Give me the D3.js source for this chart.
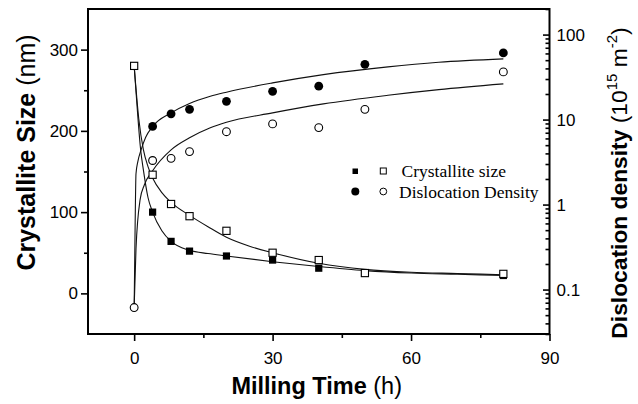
<!DOCTYPE html>
<html><head><meta charset="utf-8">
<script src="https://cdn.jsdelivr.net/npm/d3@7"></script>
<style>body{margin:0;background:#fff} svg{display:block}</style>
</head><body>
<svg id="c" width="638" height="404"></svg>
<script>
// ---- data ----
const timeOpenSize = [0, 4, 8, 12, 20, 30, 40, 50, 80];
const sizeOpen = [280, 146, 110, 95, 77, 50, 41, 25, 24];
const timeFilledSize = [0, 4, 8, 12, 20, 30, 40, 50, 80];
const sizeFilled = [280, 100, 64, 52, 46, 41, 31, 25, 22];
const timeOpenDens = [0, 4, 8, 12, 20, 30, 40, 50, 80];
const densOpen = [0.0614, 3.3, 3.5, 4.2, 7.2, 8.9, 8.05, 13.2, 36.4];
const timeFilledDens = [4, 8, 12, 20, 30, 40, 50, 80];
const densFilled = [8.3, 11.7, 13.2, 16.4, 21.5, 24.7, 44.7, 60.8];

// fitted curves
const fitSizeOpenT = [0, 1, 2, 3, 4, 6, 8, 12, 16, 20, 25, 30, 40, 50, 60, 70, 80];
const fitSizeOpen = [280, 215, 177, 156, 142, 124, 112, 96, 82, 69, 58, 50, 37, 29.5, 26, 24.5, 23];
const fitSizeFilledT = [0, 0.7, 1.4, 2, 3, 4, 6, 8, 12, 16, 20, 30, 40, 50, 60, 70, 80];
const fitSizeFilled = [280, 225, 177, 152, 118, 100, 77, 64, 53, 49, 46, 39, 33, 28, 25, 23.5, 22];
const fitDensFilledT = [0, 0.2, 0.4, 0.8, 1.5, 2.5, 4, 8, 12, 16.5, 20, 30, 41, 55, 66, 80];
const fitDensFilled = [0.0614, 0.5, 2.3, 3.2, 4.4, 6.2, 8.3, 12, 15.5, 18.8, 21, 27, 33.8, 41.7, 47.2, 51.8];
const fitDensOpenT = [0, 0.4, 1.3, 2.2, 4, 8, 12, 16.5, 20, 30, 41, 55, 66, 80];
const fitDensOpen = [0.0614, 0.3, 1.15, 1.7, 2.5, 4.4, 6.1, 8, 9.3, 12, 15.3, 19.3, 22.5, 26.3];

const xTicks = [0, 30, 60, 90];
const xMinor = [15, 45, 75];
const yLTicks = [0, 100, 200, 300];
const yLMinor = [50, 150, 250];
const yRTicks = [0.1, 1, 10, 100];
const legendLabels = ["Crystallite size", "Dislocation Density"];

// ---- layout ----
const L = 88, R = 549.5, T = 9, B = 334;
const svg = d3.select("#c");
const x = d3.scaleLinear([-10, 90], [L, R]);
const yL = d3.scaleLinear([-50, 350], [B, T]);
const yR = d3.scaleLog([0.03, 200], [B, T]);

const sans = "'Liberation Sans', Arial, sans-serif";
const serif = "'Liberation Serif', 'Times New Roman', serif";

function styleAxis(g) {
  g.select(".domain").remove();
  g.selectAll("line").attr("stroke", "#000").attr("stroke-width", 1.6);
  g.selectAll("text").attr("font-family", sans).attr("font-size", 17).attr("fill", "#000");
}

// bottom axis
svg.append("g").attr("transform", `translate(0,${B})`)
  .call(d3.axisBottom(x).tickValues(xTicks).tickSizeInner(7).tickSizeOuter(0).tickPadding(11).tickFormat(d3.format("d")))
  .call(styleAxis);
svg.append("g").attr("transform", `translate(0,${B})`)
  .call(d3.axisBottom(x).tickValues(xMinor).tickSizeInner(4).tickSizeOuter(0).tickFormat(""))
  .call(styleAxis);
// left axis
svg.append("g").attr("transform", `translate(${L},0)`)
  .call(d3.axisLeft(yL).tickValues(yLTicks).tickSizeInner(7).tickSizeOuter(0).tickPadding(3).tickFormat(d3.format("d")))
  .call(styleAxis);
svg.append("g").attr("transform", `translate(${L},0)`)
  .call(d3.axisLeft(yL).tickValues(yLMinor).tickSizeInner(4).tickSizeOuter(0).tickFormat(""))
  .call(styleAxis);
// right axis (log), ticks inward
const rMinor = [];
[0.01, 0.1, 1, 10, 100].forEach(dec => { for (let k = 2; k <= 9; k++) { const v = dec * k; if (v >= 0.03 && v <= 200) rMinor.push(v); } });
svg.append("g").attr("transform", `translate(${R},0)`)
  .call(d3.axisRight(yR).tickValues(rMinor).tickSizeInner(-4).tickSizeOuter(0).tickFormat(""))
  .call(styleAxis);
svg.append("g").attr("transform", `translate(${R},0)`)
  .call(d3.axisRight(yR).tickValues(yRTicks).tickSizeInner(-6.5).tickSizeOuter(0).tickPadding(7).tickFormat(d => String(d)))
  .call(styleAxis);

// frame
svg.append("rect").attr("x", L).attr("y", T).attr("width", R - L).attr("height", B - T)
  .attr("fill", "none").attr("stroke", "#000").attr("stroke-width", 2);

// fit curves
const lineL = d3.line().x(d => x(d[0])).y(d => yL(d[1])).curve(d3.curveMonotoneX);
const lineR = d3.line().x(d => x(d[0])).y(d => yR(d[1])).curve(d3.curveMonotoneX);
const zip = (a, b) => a.map((v, i) => [v, b[i]]);
const curves = svg.append("g").attr("fill", "none").attr("stroke", "#111").attr("stroke-width", 1.1);
curves.append("path").attr("d", lineL(zip(fitSizeOpenT, fitSizeOpen)));
curves.append("path").attr("d", lineL(zip(fitSizeFilledT, fitSizeFilled)));
curves.append("path").attr("d", lineR(zip(fitDensFilledT, fitDensFilled)));
curves.append("path").attr("d", lineR(zip(fitDensOpenT, fitDensOpen)));

// markers
const sq = 7.2;
svg.append("g").selectAll("rect").data(zip(timeFilledSize, sizeFilled)).join("rect")
  .attr("x", d => x(d[0]) - sq / 2).attr("y", d => yL(d[1]) - sq / 2)
  .attr("width", sq).attr("height", sq).attr("fill", "#000");
svg.append("g").selectAll("circle").data(zip(timeFilledDens, densFilled)).join("circle")
  .attr("cx", d => x(d[0])).attr("cy", d => yR(d[1])).attr("r", 4.4).attr("fill", "#000");
svg.append("g").selectAll("rect").data(zip(timeOpenSize, sizeOpen)).join("rect")
  .attr("x", d => x(d[0]) - 3.6).attr("y", d => yL(d[1]) - 3.6)
  .attr("width", 7.2).attr("height", 7.2).attr("fill", "#fff").attr("stroke", "#000").attr("stroke-width", 1.1);
svg.append("g").selectAll("circle").data(zip(timeOpenDens, densOpen)).join("circle")
  .attr("cx", d => x(d[0])).attr("cy", d => yR(d[1])).attr("r", 3.9)
  .attr("fill", "#fff").attr("stroke", "#000").attr("stroke-width", 1.1);

// legend
const lg = svg.append("g");
lg.append("rect").attr("x", 352.5).attr("y", 168.5).attr("width", 5.5).attr("height", 5.5).attr("fill", "#000");
lg.append("rect").attr("x", 380.3).attr("y", 168).attr("width", 6).attr("height", 6).attr("fill", "#fff").attr("stroke", "#000").attr("stroke-width", 1);
lg.append("text").attr("x", 401.5).attr("y", 177).attr("font-family", serif).attr("font-size", 17.5).text(legendLabels[0]);
lg.append("circle").attr("cx", 355.3).attr("cy", 191.5).attr("r", 4).attr("fill", "#000");
lg.append("circle").attr("cx", 383.3).attr("cy", 191.5).attr("r", 3.4).attr("fill", "#fff").attr("stroke", "#000").attr("stroke-width", 1);
lg.append("text").attr("x", 399).attr("y", 197.5).attr("font-family", serif).attr("font-size", 17.5).text(legendLabels[1]);

// axis titles
const tx = svg.append("text").attr("x", 316.7).attr("y", 394).attr("text-anchor", "middle")
  .attr("font-family", sans).attr("font-size", 23.5);
tx.append("tspan").attr("font-weight", "bold").text("Milling Time");
tx.append("tspan").text(" (h)");

const tl = svg.append("text").attr("transform", "translate(35,152.5) rotate(-90)").attr("text-anchor", "middle")
  .attr("font-family", sans).attr("font-size", 25);
tl.append("tspan").attr("font-weight", "bold").text("Crystallite Size");
tl.append("tspan").text(" (nm)");

const tr = svg.append("text").attr("transform", "translate(627,183) rotate(-90)").attr("text-anchor", "middle")
  .attr("font-family", sans).attr("font-size", 22.8);
tr.append("tspan").attr("font-weight", "bold").text("Dislocation density");
tr.append("tspan").text(" (10");
tr.append("tspan").attr("font-size", 15).attr("dy", -10).text("15");
tr.append("tspan").attr("dy", 10).text(" m");
tr.append("tspan").attr("font-size", 15).attr("dy", -10).text("-2");
tr.append("tspan").attr("dy", 10).text(")");
</script>
</body></html>
